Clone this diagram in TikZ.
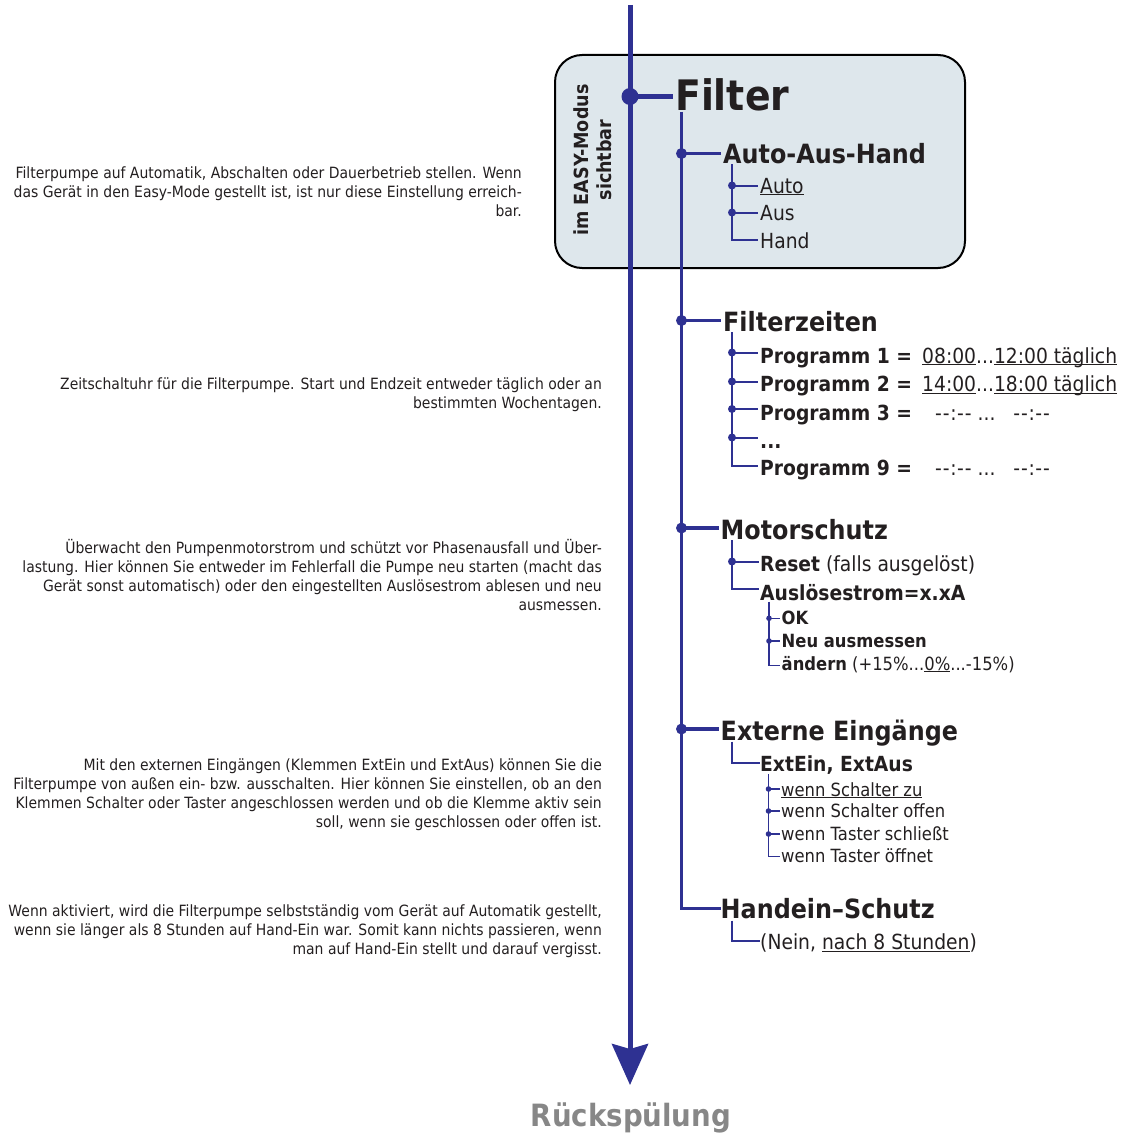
\documentclass[tikz,border=0pt]{standalone}
\usepackage{fontspec}
\setmainfont{DejaVu Sans}[FakeStretch=0.9]
\usetikzlibrary{arrows.meta}
\definecolor{tblue}{HTML}{2E3192}
\definecolor{ttext}{HTML}{231F20}
\definecolor{tbox}{HTML}{DEE7EC}
\definecolor{tgray}{HTML}{878787}
\newcommand\ulx[1]{\setbox0\hbox{#1}\rlap{\rule[-2pt]{\wd0}{1pt}}\box0}
\newcommand\dd{-\kern1pt-\kern0.6pt:\kern0.6pt-\kern1pt-}
\tikzset{
  lbl/.style={inner sep=0pt, anchor=base west, text=ttext},
  hTop/.style={lbl, font=\bfseries\fontsize{42}{46}\selectfont},
  hA/.style={lbl, font=\bfseries\fontsize{26.5}{29}\selectfont},
  hB/.style={lbl, font=\fontsize{20.8}{24}\selectfont},
  hBb/.style={lbl, font=\bfseries\fontsize{20.8}{24}\selectfont},
  hC/.style={lbl, font=\fontsize{18.2}{20}\selectfont},
  hCb/.style={lbl, font=\bfseries\fontsize{18.2}{20}\selectfont},
  desc/.style={inner sep=0pt, anchor=base east, align=right, text=ttext, font=\fontsize{15.5}{19}\selectfont},
  trunk/.style={tblue, line width=5pt},
  lone/.style={tblue, line width=3.5pt},
  ltwo/.style={tblue, line width=2pt},
  lthree/.style={tblue, line width=1.3pt},
  dotA/.style={fill=tblue},
}
\begin{document}
\begin{tikzpicture}[x=1pt,y=-1pt]
\useasboundingbox (0,0) rectangle (1121,1137);
% EASY box
\draw[fill=tbox, draw=black, line width=2pt, rounded corners=27pt] (555,55) rectangle (965,268);
\node[rotate=90, align=center, inner sep=0pt, text=ttext, font=\bfseries\fontsize{19.5}{23}\selectfont] (easy) at (593,160) {im EASY-Modus\\sichtbar};

% descriptions (anchor = baseline of the last line)
\node[desc] (d1) at (522,216) {Filterpumpe auf Automatik, Abschalten oder Dauerbetrieb stellen. Wenn\\das Gerät in den Easy-Mode gestellt ist, ist nur diese Einstellung erreich-\\bar.};
\node[desc] (d2) at (602,408) {Zeitschaltuhr für die Filterpumpe. Start und Endzeit entweder täglich oder an\\bestimmten Wochentagen.};
\node[desc] (d3) at (602,610) {Überwacht den Pumpenmotorstrom und schützt vor Phasenausfall und Über-\\lastung. Hier können Sie entweder im Fehlerfall die Pumpe neu starten (macht das\\Gerät sonst automatisch) oder den eingestellten Auslösestrom ablesen und neu\\ausmessen.};
\node[desc] (d4) at (602,827) {Mit den externen Eingängen (Klemmen ExtEin und ExtAus) können Sie die\\Filterpumpe von außen ein- bzw. ausschalten. Hier können Sie einstellen, ob an den\\Klemmen Schalter oder Taster angeschlossen werden und ob die Klemme aktiv sein\\soll, wenn sie geschlossen oder offen ist.};
\node[desc] (d5) at (602,954) {Wenn aktiviert, wird die Filterpumpe selbstständig vom Gerät auf Automatik gestellt,\\wenn sie länger als 8 Stunden auf Hand-Ein war. Somit kann nichts passieren, wenn\\man auf Hand-Ein stellt und darauf vergisst.};

% trunk
\coordinate (tTop) at (630,5);
\coordinate (tEnd) at (630,1085);
\draw[trunk, -{Stealth[length=41pt,width=36pt,inset=5pt]}] (tTop) -- (tEnd);
\node[inner sep=0pt, anchor=base, text=tgray, font=\bfseries\fontsize{30.7}{33}\selectfont] (rs) at (631,1126.5) {Rückspülung};

% Filter
\coordinate (fJ) at (630,96.5);
\coordinate (fE) at (673,96.5);
\draw[trunk] (fJ) -- (fE);
\fill[dotA] (fJ) circle (8.5);
\node[hTop] (filter) at (675,110.5) {Filter};

% level 1 spine
\coordinate (sTop) at (681.5,112);
\coordinate (hsE) at (721,908.5);
\draw[lone] (sTop) |- (hsE);
\foreach \n/\y/\xe in {aah/153.5/721, fz/320.5/721, ms/528/719, ee/729/719}{
  \coordinate (\n J) at (681.5,\y);
  \coordinate (\n E) at (\xe,\y);
  \draw[lone] (\n J) -- (\n E);
  \fill[dotA] (\n J) circle (5.5);
}
\node[hA] (aah) at (723,163.5) {Auto-Aus-Hand};
\node[hA] (fz) at (723,331.5) {Filterzeiten};
\node[hA] (ms) at (720.5,539) {Motorschutz};
\node[hA] (ee) at (720.5,740) {Externe Eingänge};
\node[hA] (hs) at (720.5,918.5) {Handein–Schutz};

% Auto-Aus-Hand
\coordinate (aV) at (732,164);
\coordinate (aHand) at (758,240);
\draw[ltwo] (aV) |- (aHand);
\foreach \n/\y in {aAuto/185.5, aAus/212.5}{
  \coordinate (\n J) at (732,\y);
  \coordinate (\n E) at (758,\y);
  \draw[ltwo] (\n J) -- (\n E);
  \fill[dotA] (\n J) circle (4);
}
\node[hB] (tAuto) at (760,193) {\ulx{Auto}};
\node[hB] (tAus) at (760,220.5) {Aus};
\node[hB] (tHand) at (760,248.5) {Hand};

% Filterzeiten
\coordinate (zV) at (732,332);
\coordinate (z9) at (758,465.5);
\draw[ltwo] (zV) |- (z9);
\foreach \n/\y in {z1/352.5, z2/381.5, z3/409, z4/437.5}{
  \coordinate (\n J) at (732,\y);
  \coordinate (\n E) at (758,\y);
  \draw[ltwo] (\n J) -- (\n E);
  \fill[dotA] (\n J) circle (4);
}
\node[hBb] (p1) at (760,363) {Programm 1 =};
\node[hBb] (p2) at (760,391.5) {Programm 2 =};
\node[hBb] (p3) at (760,420) {Programm 3 =};
\node[hBb] (p4) at (760,448) {...};
\node[hBb] (p9) at (760,475) {Programm 9 =};
\node[hB] (v1) at (922,363) {\ulx{08:00}...\ulx{12:00 täglich}};
\node[hB] (v2) at (922,391.5) {\ulx{14:00}...\ulx{18:00 täglich}};
\node[hB] (v3) at (935,420) {\dd{} ...\ \ \ \dd};
\node[hB] (v9) at (935,475) {\dd{} ...\ \ \ \dd};

% Motorschutz
\coordinate (mV) at (732,540);
\coordinate (mA) at (759,589);
\draw[ltwo] (mV) |- (mA);
\coordinate (mRJ) at (732,561.5);
\coordinate (mRE) at (759,561.5);
\draw[ltwo] (mRJ) -- (mRE);
\fill[dotA] (mRJ) circle (4);
\node[hB] (reset) at (760,571.5) {\textbf{Reset} (falls ausgelöst)};
\node[hBb] (ausl) at (760,600) {Auslösestrom=x.xA};
\coordinate (uV) at (769,601.5);
\coordinate (uC) at (780,665.5);
\draw[lthree] (uV) |- (uC);
\foreach \n/\y in {uOK/618.3, uNeu/641}{
  \coordinate (\n J) at (769,\y);
  \coordinate (\n E) at (780,\y);
  \draw[lthree] (\n J) -- (\n E);
  \fill[dotA] (\n J) circle (2.8);
}
\node[hCb] (ok) at (781.5,624.5) {OK};
\node[hCb] (neu) at (781.5,647.5) {Neu ausmessen};
\node[hC] (aend) at (781.5,670) {\textbf{ändern} (+15\%...\ulx{0\%}...-15\%)};

% Externe Eingaenge
\coordinate (eV) at (732,741.5);
\coordinate (eC) at (759.5,762.5);
\draw[ltwo] (eV) |- (eC);
\node[hBb] (ext) at (760,771.5) {ExtEin, ExtAus};
\coordinate (xV) at (768.5,774);
\coordinate (xC) at (780,856.5);
\draw[lthree] (xV) |- (xC);
\foreach \n/\y in {x1/789, x2/811, x3/834}{
  \coordinate (\n J) at (768.5,\y);
  \coordinate (\n E) at (780,\y);
  \draw[lthree] (\n J) -- (\n E);
  \fill[dotA] (\n J) circle (2.8);
}
\node[hC] (w1) at (781,796) {\ulx{wenn Schalter zu}};
\node[hC] (w2) at (781,817.5) {wenn Schalter offen};
\node[hC] (w3) at (781,840) {wenn Taster schließt};
\node[hC] (w4) at (781,862.5) {wenn Taster öffnet};

% Handein-Schutz
\coordinate (hV) at (732,920.5);
\coordinate (hC) at (759.5,940.5);
\draw[ltwo] (hV) |- (hC);
\node[hB] (nein) at (760,949.5) {(Nein, \ulx{nach 8 Stunden})};
\end{tikzpicture}
\end{document}
